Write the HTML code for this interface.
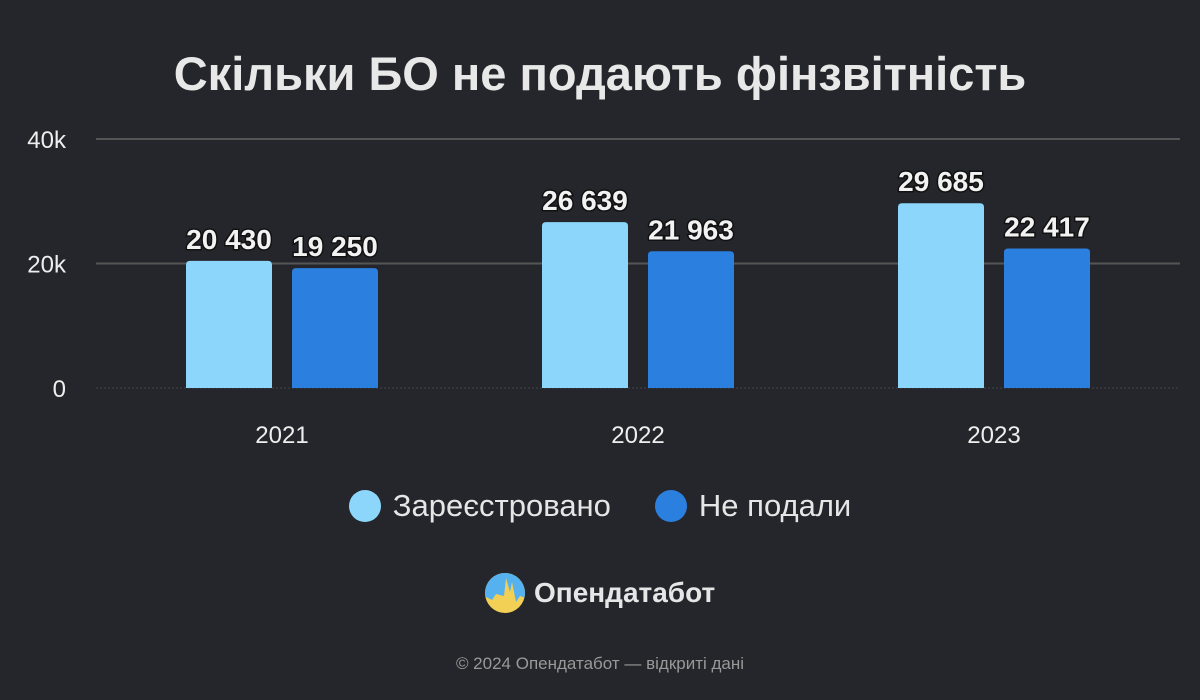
<!DOCTYPE html>
<html><head><meta charset="utf-8"><style>
body{margin:0;width:1200px;height:700px;background:#25262b;font-family:"Liberation Sans",sans-serif;overflow:hidden;position:relative}
.t{position:absolute;color:#eee}
</style></head><body>
<div class="t" style="left:0;width:1200px;top:46px;text-align:center;font-size:47px;font-weight:bold;color:#e8e8e8">Скільки БО не подають фінзвітність</div>
<svg id="c" width="1200" height="700" style="position:absolute;left:0;top:0"></svg>
<div style="position:absolute;top:488px;left:0;width:1200px;display:flex;justify-content:center;gap:44px;font-size:31px;color:#e6e6e6">
<div style="display:flex;align-items:center"><span style="width:32px;height:32px;border-radius:50%;background:#8dd6fb;margin-right:12px"></span>Зареєстровано</div>
<div style="display:flex;align-items:center"><span style="width:32px;height:32px;border-radius:50%;background:#2b7fdf;margin-right:12px"></span>Не подали</div>
</div>
<div style="position:absolute;top:572px;left:484px;display:flex;align-items:center;font-size:28px;font-weight:bold;color:#e6e6e6">
<svg width="42" height="42"><defs><clipPath id="cl"><circle cx="21" cy="21" r="20"/></clipPath></defs><g clip-path="url(#cl)"><rect width="42" height="42" fill="#f2cf55"/><path d="M0 0H42V26L36 24L32 30L28 10L26 20L22 6L20 24L12 22L8 28L0 24Z" fill="#55b2ef"/></g></svg>
<span style="margin-left:8px">Опендатабот</span></div>
<div class="t" style="left:0;width:1200px;top:654px;text-align:center;font-size:17px;color:#999">© 2024 Опендатабот — відкриті дані</div>
<script>
const categories=["2021","2022","2023"];
const registered=[20430,26639,29685];
const notFiled=[19250,21963,22417];
const ticks=[0,20000,40000];
const tickLabels=["0","20k","40k"];
const svg=document.getElementById('c');const NS='http://www.w3.org/2000/svg';
const y=v=>388-v/20000*124.5;
const gx=i=>104+356*i+178;
function mk(t,a){const e=document.createElementNS(NS,t);for(const k in a)e.setAttribute(k,a[k]);svg.appendChild(e);return e;}
ticks.forEach((t,i)=>{
 const l=mk('line',{x1:96,x2:1180,y1:y(t),y2:y(t),stroke:t?'#555':'#444','stroke-width':t?2:1,'stroke-dasharray':t?'':'2 2'});
 
 
 const tx=mk('text',{x:66,y:y(t)+9,'text-anchor':'end','font-size':24,fill:'#eee'});tx.textContent=tickLabels[i];
 
 
});
const fmt=v=>String(v).replace(/\B(?=(\d{3})+$)/g,' ');
categories.forEach((c,i)=>{
 [[registered,'#8dd6fb',-96],[notFiled,'#2b7fdf',10]].forEach(([arr,col,off])=>{
  const v=arr[i];const x=gx(i)+off;
  const r=mk('path',{d:`M${x} 388V${y(v)+4}q0-4 4-4h78q4 0 4 4V388Z`,fill:col});
  
  
  const t=mk('text',{x:x+43,y:y(v)-12,'text-anchor':'middle','font-size':28,'font-weight':'bold',fill:'#f2f2f2',stroke:'#111','stroke-width':3,'paint-order':'stroke'});t.textContent=fmt(v);
  
  
 });
 const xl=mk('text',{x:gx(i),y:443,'text-anchor':'middle','font-size':24,fill:'#eee'});xl.textContent=c;
 
 
});
</script>
</body></html>
